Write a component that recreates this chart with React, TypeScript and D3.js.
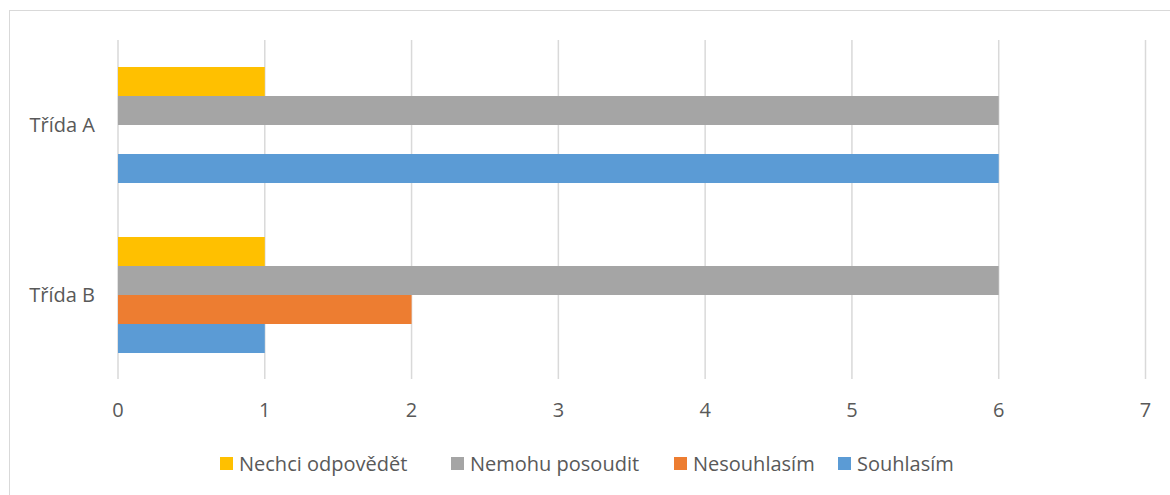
import { useEffect } from "react";
import { scaleLinear, scaleBand } from "d3";

const width = 1170;
const height = 495;

const categories = ["Třída A", "Třída B"];
const seriesNames = ["Nechci odpovědět", "Nemohu posoudit", "Nesouhlasím", "Souhlasím"];
const seriesColors = ["#FFC000", "#A5A5A5", "#ED7D31", "#5B9BD5"];
// values per series, in category order (Třída A, Třída B)
const nechci = [1, 1];
const nemohu = [6, 6];
const nesouhlasim = [0, 2];
const souhlasim = [6, 1];
const seriesValues = [nechci, nemohu, nesouhlasim, souhlasim];
const xTicks = [0, 1, 2, 3, 4, 5, 6, 7];

const legendX = [220, 451, 674, 838];

const font = "'Open Sans', 'Noto Sans', sans-serif";
const textColor = "#595959";
const fs = 20;

const x = scaleLinear().domain([0, 7]).range([118, 1145.5]);
const y0 = scaleBand().domain(categories).range([40, 380]).paddingInner(0.3176).paddingOuter(0.1588);
const y1 = scaleBand().domain(seriesNames).range([0, y0.bandwidth()]);

const App = () => {
  useEffect(() => {
    document.body.style.margin = "0";
  }, []);

  return (
    <svg width={width} height={height} style={{ display: "block", fontFamily: font }}>
      <rect x={0} y={0} width={width} height={height} fill="#fff" />
      <rect x={9.5} y={10.5} width={1300} height={600} fill="none" stroke="#D9D9D9" />
      {xTicks.map((t) => (
        <line key={t} x1={x(t)} x2={x(t)} y1={40} y2={379} stroke="#D9D9D9" strokeWidth={1.5} />
      ))}
      {categories.map((c, ci) => (
        <g key={c}>
          {seriesNames.map((s, si) =>
            seriesValues[si][ci] > 0 ? (
              <rect
                key={s}
                x={x(0)}
                y={y0(c) + y1(s)}
                width={x(seriesValues[si][ci]) - x(0)}
                height={y1.bandwidth()}
                fill={seriesColors[si]}
              />
            ) : null
          )}
          <text
            x={95}
            y={y0(c) + y0.bandwidth() / 2}
            dy="0.35em"
            textAnchor="end"
            fontSize={fs}
            fill={textColor}
          >
            {c}
          </text>
        </g>
      ))}
      {xTicks.map((t) => (
        <text key={t} x={x(t)} y={410} dy="0.35em" textAnchor="middle" fontSize={fs} fill={textColor}>
          {t}
        </text>
      ))}
      {seriesNames.map((s, i) => (
        <g key={s} transform={`translate(${legendX[i]},457)`}>
          <rect width={13} height={13} fill={seriesColors[i]} />
          <text x={19} y={6.5} dy="0.35em" fontSize={fs} fill={textColor}>
            {s}
          </text>
        </g>
      ))}
    </svg>
  );
};

export default App;
